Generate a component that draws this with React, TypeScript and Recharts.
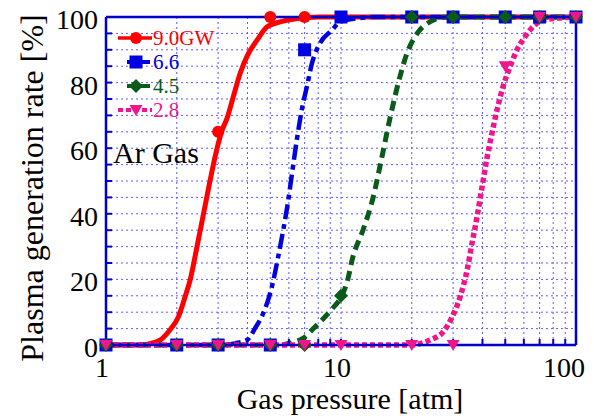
import React from "react";
import {
  CartesianGrid,
  ComposedChart,
  Legend,
  Line,
  Scatter,
  XAxis,
  YAxis,
} from "recharts";

// axis ticks
const xTicks = [1, 2, 3, 4, 5, 6, 7, 8, 9, 10, 20, 30, 40, 50, 60, 70, 80, 90, 100];
const xLabels = [1, 10, 100];
const yTicks = [0, 5, 10, 15, 20, 25, 30, 35, 40, 45, 50, 55, 60, 65, 70, 75, 80, 85, 90, 95, 100];
const yLabels = [0, 20, 40, 60, 80, 100];

// measured points (gas pressure in atm)
const pressures = [1, 2, 3, 5, 7, 10, 20, 30, 50, 70, 100];
const rate90 = [0, 0, 65, 100, 100, 100, 100, 100, 100, 100, 100];
const rate66 = [0, 0, 0, 0, 90, 100, 100, 100, 100, 100, 100];
const rate45 = [0, 0, 0, 0, 0, 15, 100, 100, 100, 100, 100];
const rate28 = [0, 0, 0, 0, 0, 0, 0, 0, 85, 100, 100];

// fitted curves
const fitP90 = [1, 1.4, 1.55, 1.7, 1.87, 2.03, 2.17, 2.28, 2.44, 2.6, 2.77, 2.97, 3.12, 3.27, 3.49, 3.73, 3.98, 4.4, 4.85, 5.5, 6.5, 8, 100];
const fitR90 = [0, 0, 0.5, 1.5, 4.6, 8.5, 14.7, 19.8, 30, 40, 50, 60, 65.5, 69, 76, 83, 88, 93, 97, 98.5, 99.5, 100, 100];
const fitP66 = [1, 3.2, 3.54, 3.98, 4.3, 4.75, 5.09, 5.39, 5.66, 5.95, 6.18, 6.5, 6.82, 7.17, 7.53, 8.14, 9.16, 9.9, 11.5, 14, 100];
const fitR66 = [0, 0, 0.5, 1.5, 5, 11, 18, 26.5, 34.5, 43.6, 52, 63, 72, 79, 86, 92, 96, 98.5, 99.5, 100, 100];
const fitP45 = [1, 5.5, 6.2, 6.89, 7.75, 8.14, 9.16, 10, 10.6, 11.25, 12.4, 13.7, 14.9, 16.2, 17.8, 19.1, 21.1, 23.9, 28.3, 100];
const fitR45 = [0, 0, 0.8, 2, 5.5, 7, 11, 14.6, 19, 27, 35, 45, 57, 69.5, 81.7, 89, 95, 98.5, 100, 100];
const fitP28 = [1, 19.7, 23.9, 27.2, 29.7, 32.1, 34.4, 36.1, 37.9, 39.8, 41.8, 43.9, 46.1, 48.9, 52.4, 56.1, 60.7, 66.9, 72.4, 85.5, 100];
const fitR28 = [0, 0, 1.5, 4, 8.5, 14.6, 22.8, 31, 39, 48, 57, 64.6, 71.6, 78.7, 84.8, 90, 94, 97.6, 99, 99.7, 100];

const RED = "#ff0000";
const BLUE = "#0000e0";
const GREEN = "#0a5a1a";
const PINK = "#f0158c";
const AXIS = "#0000cc";
const GRID = "#5c5cff";
const SERIF = "'Liberation Serif', 'Times New Roman', serif";

const zip = (xs: number[], ys: number[]) => xs.map((p, i) => ({ p, r: ys[i] }));

type Mark = "circle" | "square" | "diamond" | "triangle";

const marker = (kind: Mark, color: string, cx: number, cy: number) => {
  if (kind === "circle") return <circle cx={cx} cy={cy} r={6} fill={color} />;
  if (kind === "square")
    return <rect x={cx - 6.5} y={cy - 6.5} width={13} height={13} fill={color} />;
  if (kind === "diamond")
    return (
      <polygon
        points={`${cx},${cy - 7} ${cx + 7},${cy} ${cx},${cy + 7} ${cx - 7},${cy}`}
        fill={color}
      />
    );
  return (
    <polygon
      points={`${cx - 6.5},${cy - 5} ${cx + 6.5},${cy - 5} ${cx},${cy + 6}`}
      fill={color}
    />
  );
};

const series = [
  { name: "9.0GW", color: RED, mark: "circle" as Mark, pts: zip(pressures, rate90), fit: zip(fitP90, fitR90), width: 5, dash: undefined as string | undefined },
  { name: "6.6", color: BLUE, mark: "square" as Mark, pts: zip(pressures, rate66), fit: zip(fitP66, fitR66), width: 4.5, dash: "15 5 5 5" },
  { name: "4.5", color: GREEN, mark: "diamond" as Mark, pts: zip(pressures, rate45), fit: zip(fitP45, fitR45), width: 5, dash: "10 6" },
  { name: "2.8", color: PINK, mark: "triangle" as Mark, pts: zip(pressures, rate28), fit: zip(fitP28, fitR28), width: 5.5, dash: "5 3" },
];

const XTick = (props: any) => {
  const { x, y, payload } = props;
  if (!xLabels.includes(payload.value)) return <g />;
  return (
    <text x={x} y={y} dx={payload.value === 100 ? -12 : -4} dy={32} textAnchor="middle" fontSize={28} fontFamily={SERIF} fill="#000">
      {payload.value}
    </text>
  );
};

const YTick = (props: any) => {
  const { x, y, payload } = props;
  if (!yLabels.includes(payload.value)) return <g />;
  return (
    <text x={x} y={y} dy={12} textAnchor="end" fontSize={28} fontFamily={SERIF} fill="#000">
      {payload.value}
    </text>
  );
};

const legendRows = [
  { lineFrom: 8, lineTo: 42 },
  { lineFrom: 17, lineTo: 40 },
  { lineFrom: 17, lineTo: 40 },
  { lineFrom: 8, lineTo: 42 },
];

const renderLegend = () => (
  <svg width={130} height={150} style={{ display: "block" }}>
    {series.map((s, i) => {
      const cy = 14 + i * 24;
      return (
        <g key={s.name}>
          <line
            x1={legendRows[i].lineFrom}
            x2={legendRows[i].lineTo}
            y1={cy}
            y2={cy}
            stroke={s.color}
            strokeWidth={i === 0 ? 3.5 : 4}
            strokeDasharray={i === 3 ? "5 3" : undefined}
          />
          {marker(s.mark, s.color, 26, cy)}
          <text x={43} y={cy + 7} fontSize={21} fontFamily={SERIF} fill={s.color}>
            {s.name}
          </text>
        </g>
      );
    })}
    <text x={3} y={139} fontSize={30} fontFamily={SERIF} fill="#000">
      Ar Gas
    </text>
  </svg>
);

export default function App() {
  return (
    <div style={{ position: "absolute", left: 0, top: 0, width: 594, height: 416, background: "#fff" }}>
      <ComposedChart width={594} height={416} margin={{ top: 0, right: 0, bottom: 0, left: 0 }}>
        <CartesianGrid stroke={GRID} strokeDasharray="2 3" strokeWidth={1} />
        <XAxis
          dataKey="p"
          type="number"
          scale="log"
          domain={[1, 100]}
          ticks={xTicks}
          interval={0}
          height={71}
          tickSize={-6}
          tickMargin={6}
          axisLine={{ stroke: AXIS, strokeWidth: 2.5 }}
          tickLine={{ stroke: AXIS, strokeWidth: 2 }}
          tick={<XTick />}
          label={(props: any) => {
            const vb = props.viewBox;
            return (
              <text x={vb.x + vb.width / 2 + 9} y={vb.y + 64} textAnchor="middle" fontSize={30} fontFamily={SERIF} fill="#000">
                Gas pressure [atm]
              </text>
            );
          }}
        />
        <XAxis
          xAxisId="top"
          orientation="top"
          type="number"
          scale="log"
          domain={[1, 100]}
          allowDataOverflow
          ticks={xTicks}
          interval={0}
          height={17}
          tickSize={-6}
          axisLine={{ stroke: AXIS, strokeWidth: 2.5 }}
          tickLine={{ stroke: AXIS, strokeWidth: 2 }}
          tick={false}
        />
        <YAxis
          dataKey="r"
          type="number"
          domain={[0, 100]}
          ticks={yTicks}
          interval={0}
          width={106}
          tickSize={-6}
          tickMargin={14}
          axisLine={{ stroke: AXIS, strokeWidth: 2.5 }}
          tickLine={{ stroke: AXIS, strokeWidth: 2 }}
          tick={<YTick />}
          label={(props: any) => {
            const vb = props.viewBox;
            const cx = vb.x + 43;
            const cy = vb.y + vb.height / 2 + 7;
            return (
              <text x={cx} y={cy} transform={`rotate(-90, ${cx}, ${cy})`} textAnchor="middle" fontSize={32} fontFamily={SERIF} fill="#000">
                Plasma generation rate [%]
              </text>
            );
          }}
        />
        <YAxis
          yAxisId="right"
          orientation="right"
          type="number"
          domain={[0, 100]}
          allowDataOverflow
          ticks={yTicks}
          interval={0}
          width={18}
          tickSize={-6}
          axisLine={{ stroke: AXIS, strokeWidth: 2.5 }}
          tickLine={{ stroke: AXIS, strokeWidth: 2 }}
          tick={false}
        />
        <Legend
          layout="vertical"
          align="center"
          verticalAlign="middle"
          content={renderLegend}
          wrapperStyle={{ left: 110, top: 24, width: 130, height: 150 }}
        />
        {series.map((s) => (
          <Line
            key={`fit-${s.name}`}
            data={s.fit}
            dataKey="r"
            type="monotone"
            stroke={s.color}
            strokeWidth={s.width}
            strokeDasharray={s.dash}
            dot={false}
            activeDot={false}
            legendType="none"
            isAnimationActive={false}
          />
        ))}
        {series.map((s) => (
          <Scatter
            key={`pts-${s.name}`}
            name={s.name}
            data={s.pts}
            dataKey="r"
            fill={s.color}
            shape={(props: any) => marker(s.mark, s.color, props.cx, props.cy)}
            isAnimationActive={false}
          />
        ))}
      </ComposedChart>
    </div>
  );
}
